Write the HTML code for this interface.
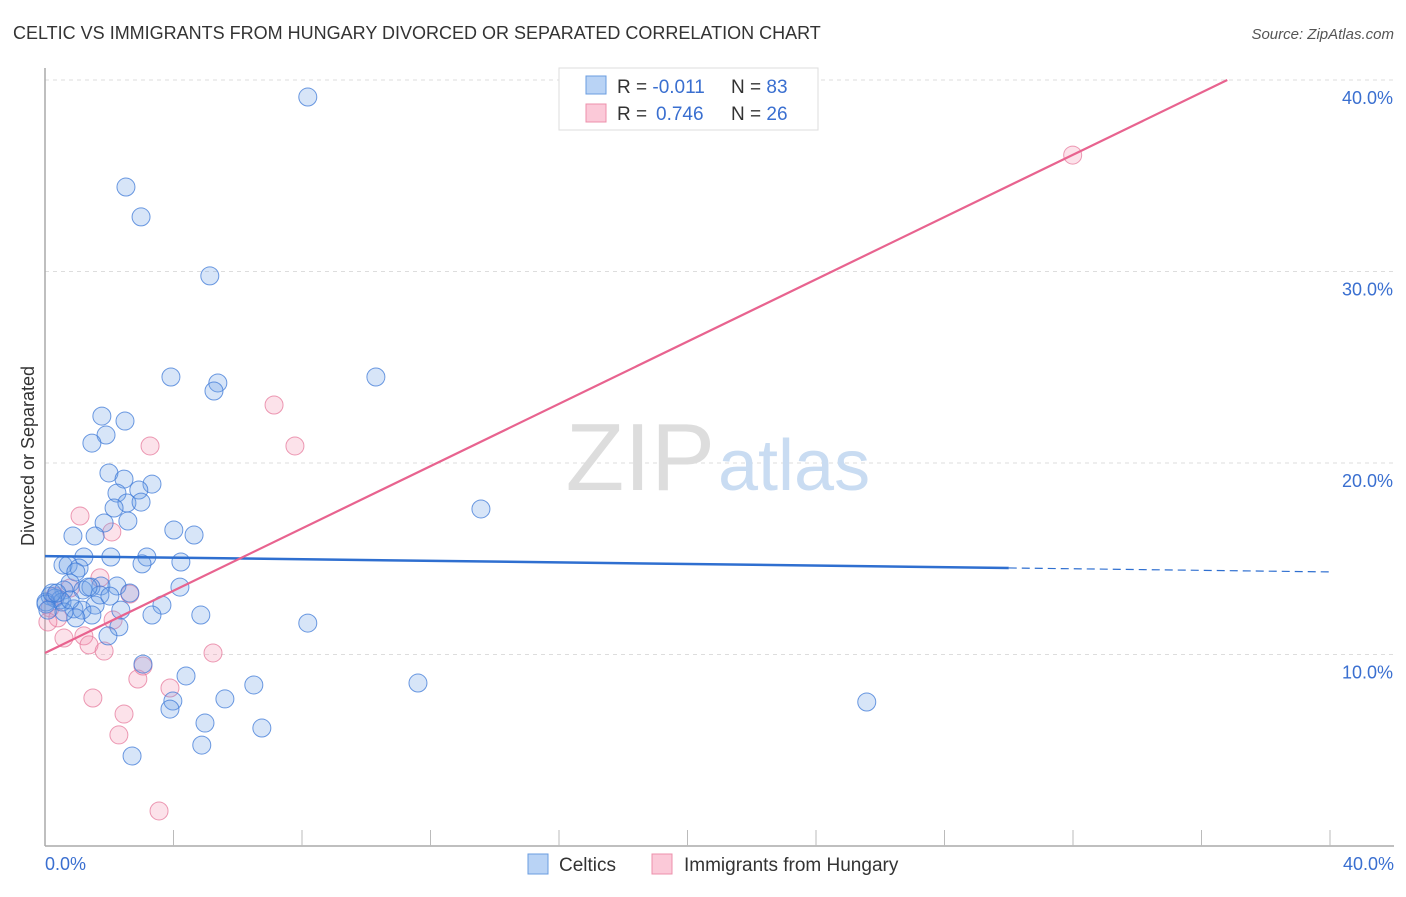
<!DOCTYPE html>
<html><head><meta charset="utf-8">
<style>
body{margin:0;background:#fff;font-family:"Liberation Sans",sans-serif;}
svg text{font-family:"Liberation Sans",sans-serif;}
</style></head>
<body>
<svg id="chart" width="1406" height="892" viewBox="0 0 1406 892" xmlns="http://www.w3.org/2000/svg">
<text x="13" y="39" font-size="18" fill="#333">CELTIC VS IMMIGRANTS FROM HUNGARY DIVORCED OR SEPARATED CORRELATION CHART</text>
<text x="1394" y="39" font-size="15" fill="#555" text-anchor="end" font-style="italic">Source: ZipAtlas.com</text>
<g id="grid"></g>
<text x="715" y="490" font-size="96" fill="#ddd" text-anchor="end" font-family="Liberation Serif">ZIP</text>
<text x="718" y="490" font-size="72" fill="#c9dcf2">atlas</text>
<line x1="45" y1="68" x2="45" y2="846" stroke="#aaa" stroke-width="1.5"/>
<line x1="45" y1="846" x2="1394" y2="846" stroke="#aaa" stroke-width="1.5"/>
<text transform="translate(34,456) rotate(-90)" font-size="18" fill="#333" text-anchor="middle">Divorced or Separated</text>
<text x="45" y="870" font-size="18" fill="#3a6fd0">0.0%</text>
<text x="1394" y="870" font-size="18" fill="#3a6fd0" text-anchor="end">40.0%</text>
<g id="ticks"></g>
<g id="points"></g>
<g id="lines"></g>
<g>
<rect x="559" y="68" width="259" height="62" fill="#fff" stroke="#ddd"/>
<rect x="586" y="76" width="20" height="18" fill="#b9d3f5" stroke="#6a9ce0"/>
<rect x="586" y="104" width="20" height="18" fill="#fbc9d8" stroke="#ec90ab"/>
<text x="617" y="93" font-size="19" fill="#333">R = <tspan fill="#3a6fd0">-0.011</tspan><tspan x="731">N = </tspan><tspan fill="#3a6fd0">83</tspan></text>
<text x="617" y="120" font-size="19" fill="#333">R = <tspan fill="#3a6fd0" x="656">0.746</tspan><tspan x="731">N = </tspan><tspan fill="#3a6fd0">26</tspan></text>
</g>
<g>
<rect x="528" y="854" width="20" height="20" fill="#b9d3f5" stroke="#6a9ce0"/>
<text x="559" y="871" font-size="19" fill="#333">Celtics</text>
<rect x="652" y="854" width="20" height="20" fill="#fbc9d8" stroke="#ec90ab"/>
<text x="684" y="871" font-size="19" fill="#333">Immigrants from Hungary</text>
</g>
</svg>
<script>
const yTicks=[10,20,30,40];
const yTickLabels=["10.0%","20.0%","30.0%","40.0%"];
const xTicks=[4,8,12,16,20,24,28,32,36,40];
const celticsX=[8.18,2.52,2.99,5.13,3.92,10.30,5.38,5.26,1.77,2.49,1.90,1.46,1.99,2.46,3.33,2.24,2.92,2.55,2.99,2.15,2.58,1.84,13.57,4.01,4.64,0.87,1.56,1.21,2.05,3.17,4.23,3.02,0.56,0.72,1.06,0.96,0.78,1.18,1.74,2.24,2.64,4.20,1.43,0.59,0.16,0.31,0.47,0.03,0.53,1.56,3.64,2.36,0.90,1.15,1.46,3.33,4.85,0.96,8.18,2.30,1.96,3.05,4.39,11.61,6.50,5.60,3.98,3.89,4.98,6.75,4.88,2.71,25.58,0.03,0.22,0.09,0.37,0.59,1.71,2.02,1.34,0.78];
const celticsY=[39.11,34.41,32.85,29.77,24.49,24.49,24.18,23.76,22.45,22.19,21.46,21.04,19.48,19.16,18.90,18.43,18.59,17.91,17.96,17.65,16.97,16.87,17.60,16.50,16.24,16.19,16.19,15.09,15.09,15.09,14.83,14.73,14.67,14.67,14.52,14.31,13.73,13.37,13.58,13.58,13.21,13.52,13.52,13.37,13.05,12.95,12.85,12.74,12.74,12.58,12.58,12.32,12.38,12.32,12.06,12.06,12.06,11.91,11.64,11.44,10.97,9.50,8.88,8.51,8.41,7.68,7.57,7.15,6.42,6.16,5.27,4.70,7.52,12.64,13.21,12.32,13.21,12.22,13.11,13.05,13.52,12.85];
const hungaryX=[31.99,7.13,7.78,3.27,1.09,2.08,1.71,0.78,2.64,0.31,0.16,0.40,0.09,2.12,0.59,1.21,1.37,1.84,5.23,2.89,3.05,3.89,1.49,2.46,2.30,3.55];
const hungaryY=[36.08,23.03,20.89,20.89,17.23,16.40,14.00,13.47,13.16,13.05,12.43,11.91,11.70,11.80,10.86,10.97,10.50,10.18,10.08,8.72,9.40,8.25,7.73,6.89,5.80,1.83];
const celticsTrend=[15.14,-0.0207];
const hungaryTrend=[10.08,0.813];

const NS="http://www.w3.org/2000/svg";
function sx(v){return 45+v*(1285/40);}
function sy(v){return 846-v*19.15;}
function mk(tag,attrs,parent){const e=document.createElementNS(NS,tag);for(const k in attrs)e.setAttribute(k,attrs[k]);parent.appendChild(e);return e;}
const grid=document.getElementById('grid');
yTicks.forEach((t,i)=>{
  const l=mk('line',{x1:45,x2:1394,y1:sy(t),y2:sy(t),stroke:'#ddd','stroke-dasharray':'4,4'},grid);
  
  
  const tx=mk('text',{x:1393,y:sy(t)+24,'font-size':18,fill:'#3a6fd0','text-anchor':'end'},grid);
  tx.textContent=yTickLabels[i];
  
  
});
const ticks=document.getElementById('ticks');
xTicks.forEach(t=>{
  const l=mk('line',{x1:sx(t),x2:sx(t),y1:830,y2:846,stroke:'#bbb'},ticks);
  
  
});
const pts=document.getElementById('points');
hungaryX.forEach((x,i)=>{
  const c=mk('circle',{cx:sx(x),cy:sy(hungaryY[i]),r:9,fill:'rgba(245,150,180,0.28)',stroke:'rgba(230,120,155,0.75)','stroke-width':1},pts);
  
  
});
celticsX.forEach((x,i)=>{
  const c=mk('circle',{cx:sx(x),cy:sy(celticsY[i]),r:9,fill:'rgba(110,160,230,0.28)',stroke:'rgba(60,120,215,0.75)','stroke-width':1},pts);
  
  
});
const lines=document.getElementById('lines');
const b1=mk('line',{x1:sx(0),y1:sy(celticsTrend[0]),x2:sx(30),y2:sy(celticsTrend[0]+celticsTrend[1]*30),stroke:'#2f6fd0','stroke-width':2.5},lines);


const b2=mk('line',{x1:sx(30),y1:sy(celticsTrend[0]+celticsTrend[1]*30),x2:sx(40),y2:sy(celticsTrend[0]+celticsTrend[1]*40),stroke:'#2f6fd0','stroke-width':1.2,'stroke-dasharray':'8,5'},lines);


const xEnd=(40-hungaryTrend[0])/hungaryTrend[1];
const p1=mk('line',{x1:sx(0),y1:sy(hungaryTrend[0]),x2:sx(xEnd),y2:sy(40),stroke:'#e8638f','stroke-width':2.2},lines);


</script>
</body></html>
